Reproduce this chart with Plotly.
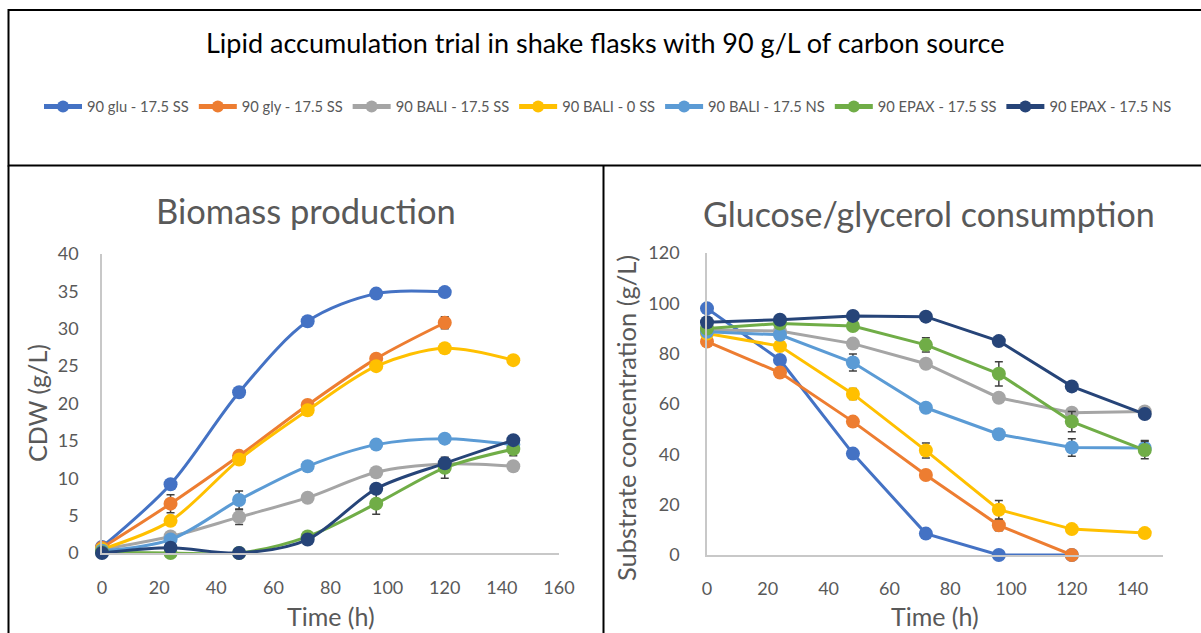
import plotly.graph_objects as go

# ---- data -------------------------------------------------------------
series_names = [
    "90 glu - 17.5 SS",
    "90 gly - 17.5 SS",
    "90 BALI - 17.5 SS",
    "90 BALI - 0 SS",
    "90 BALI - 17.5 NS",
    "90 EPAX - 17.5 SS",
    "90 EPAX - 17.5 NS",
]
series_colors = ["#4472C4", "#ED7D31", "#A5A5A5", "#FFC000", "#5B9BD5", "#70AD47", "#264478"]

time_full = [0, 24, 48, 72, 96, 120, 144]
time_short = [0, 24, 48, 72, 96, 120]

# Biomass (CDW, g/L)
cdw_glu = [0.8, 9.2, 21.5, 31.0, 34.7, 34.9]
cdw_gly = [0.7, 6.6, 13.0, 19.8, 26.0, 30.8]
cdw_bali_ss = [0.5, 2.2, 4.8, 7.4, 10.8, 11.9, 11.6]
cdw_bali_0ss = [0.5, 4.3, 12.5, 19.1, 25.0, 27.4, 25.8]
cdw_bali_ns = [0.3, 1.8, 7.1, 11.6, 14.5, 15.3, 14.5]
cdw_epax_ss = [0.1, 0.0, 0.0, 2.2, 6.6, 11.4, 13.9]
cdw_epax_ns = [0.0, 0.7, 0.0, 1.8, 8.6, 12.0, 15.1]

cdw_err_glu = [0, 0, 0, 0, 0, 0]
cdw_err_gly = [0, 1.2, 0, 0, 0.5, 0.8]
cdw_err_bali_ss = [0, 0, 1.0, 0.5, 0, 0, 0]
cdw_err_bali_0ss = [0, 0.4, 0, 0, 0.6, 0.6, 0]
cdw_err_bali_ns = [0, 0, 1.2, 0, 0, 0, 0]
cdw_err_epax_ss = [0, 0, 0, 0, 1.4, 1.4, 0.9]
cdw_err_epax_ns = [0, 0, 0, 0, 0, 0.6, 0]

# Substrate concentration (g/L)
sub_glu = [98.0, 77.5, 40.3, 8.5, 0.0, 0.0]
sub_gly = [84.8, 72.5, 53.0, 31.8, 11.8, 0.0]
sub_bali_ss = [89.4, 89.0, 84.0, 76.0, 62.5, 56.5, 57.0]
sub_bali_0ss = [88.0, 83.0, 64.0, 41.5, 18.0, 10.3, 8.7]
sub_bali_ns = [88.7, 87.5, 76.5, 58.5, 48.0, 42.7, 42.5]
sub_epax_ss = [90.0, 92.0, 91.0, 83.5, 72.0, 53.0, 41.7]
sub_epax_ns = [92.5, 93.5, 95.0, 94.7, 85.0, 67.0, 56.0]

sub_err_glu = [0, 0, 0, 0, 0, 0]
sub_err_gly = [0, 0, 0, 0, 2.2, 0]
sub_err_bali_ss = [0, 0, 0, 0, 0, 1.2, 1.0]
sub_err_bali_0ss = [0, 0, 2.2, 3.0, 3.7, 0, 0]
sub_err_bali_ns = [0, 0, 3.4, 0, 2.0, 3.5, 3.0]
sub_err_epax_ss = [0, 0, 0, 2.8, 4.8, 4.0, 3.5]
sub_err_epax_ns = [0, 0, 0, 0, 0, 0, 1.2]

biomass = [
    (time_short, cdw_glu, cdw_err_glu),
    (time_short, cdw_gly, cdw_err_gly),
    (time_full, cdw_bali_ss, cdw_err_bali_ss),
    (time_full, cdw_bali_0ss, cdw_err_bali_0ss),
    (time_full, cdw_bali_ns, cdw_err_bali_ns),
    (time_full, cdw_epax_ss, cdw_err_epax_ss),
    (time_full, cdw_epax_ns, cdw_err_epax_ns),
]
substrate = [
    (time_short, sub_glu, sub_err_glu),
    (time_short, sub_gly, sub_err_gly),
    (time_full, sub_bali_ss, sub_err_bali_ss),
    (time_full, sub_bali_0ss, sub_err_bali_0ss),
    (time_full, sub_bali_ns, sub_err_bali_ns),
    (time_full, sub_epax_ss, sub_err_epax_ss),
    (time_full, sub_epax_ns, sub_err_epax_ns),
]

# ---- layout helpers (pixel -> paper) ----------------------------------
W, H = 1201, 633


def px(x):
    return x / W


def py(y):
    return 1 - y / H


FONT = "Lato, 'Open Sans', sans-serif"
GRAY_TXT = "#595959"
ERR_COLOR = "#404040"

fig = go.Figure()

for i, name in enumerate(series_names):
    t, v, e = biomass[i]
    fig.add_trace(go.Scatter(
        x=t, y=v, name=name, legendgroup=name, showlegend=True,
        mode="lines+markers",
        line=dict(color=series_colors[i], width=3, shape="spline", smoothing=0.9),
        marker=dict(color=series_colors[i], size=14),
        error_y=dict(type="data", array=e, visible=True, color=ERR_COLOR, thickness=1.5, width=4),
        cliponaxis=False, xaxis="x", yaxis="y",
    ))

for i, name in enumerate(series_names):
    t, v, e = substrate[i]
    fig.add_trace(go.Scatter(
        x=t, y=v, name=name, legendgroup=name, showlegend=False,
        mode="lines+markers",
        line=dict(color=series_colors[i], width=3),
        marker=dict(color=series_colors[i], size=14),
        error_y=dict(type="data", array=e, visible=True, color=ERR_COLOR, thickness=1.5, width=4),
        cliponaxis=False, xaxis="x2", yaxis="y2",
    ))

axis_common = dict(
    showgrid=False, zeroline=False, showline=True, linecolor="#c8c8c8", linewidth=1.5,
    ticks="", tickfont=dict(family=FONT, size=18, color=GRAY_TXT), fixedrange=True,
    automargin=False,
)

fig.update_layout(
    width=W, height=H,
    margin=dict(l=0, r=0, t=0, b=0, autoexpand=False),
    paper_bgcolor="white", plot_bgcolor="white",
    font=dict(family=FONT, color=GRAY_TXT),
    xaxis=dict(domain=[px(102), px(559)], range=[0, 160], dtick=20, tick0=0,
               anchor="y", ticklabelstandoff=18, **axis_common),
    yaxis=dict(domain=[py(553), py(254)], range=[0, 40], dtick=5, tick0=0,
               anchor="x", ticklabelstandoff=18, **axis_common),
    xaxis2=dict(domain=[px(707), px(1163)], range=[0, 150], dtick=20, tick0=0,
                anchor="y2", ticklabelstandoff=17, **axis_common),
    yaxis2=dict(domain=[py(555), py(253)], range=[0, 120], dtick=20, tick0=0,
                anchor="x2", ticklabelstandoff=22, **axis_common),
    legend=dict(
        orientation="h", x=px(608), xanchor="center", y=py(107), yanchor="middle",
        font=dict(family=FONT, size=14.7, color=GRAY_TXT), itemsizing="constant",
        itemwidth=38, bgcolor="rgba(0,0,0,0)", traceorder="normal",
    ),
    showlegend=True,
)

annotations = [
    dict(text="Lipid accumulation trial in shake flasks with 90 g/L of carbon source",
         x=px(605), y=py(42), font=dict(family=FONT, size=27, color="#000000")),
    dict(text="Biomass production", x=px(306), y=py(211),
         font=dict(family=FONT, size=34.5, color=GRAY_TXT)),
    dict(text="Glucose/glycerol consumption", x=px(929), y=py(213),
         font=dict(family=FONT, size=34, color=GRAY_TXT)),
    dict(text="Time (h)", x=px(331), y=py(616), font=dict(family=FONT, size=25, color=GRAY_TXT)),
    dict(text="Time (h)", x=px(935), y=py(616), font=dict(family=FONT, size=25, color=GRAY_TXT)),
    dict(text="CDW (g/L)", x=px(37), y=py(403), textangle=-90,
         font=dict(family=FONT, size=25, color=GRAY_TXT)),
    dict(text="Substrate concentration (g/L)", x=px(626), y=py(418), textangle=-90,
         font=dict(family=FONT, size=25.5, color=GRAY_TXT)),
]
for a in annotations:
    a.update(xref="paper", yref="paper", showarrow=False, xanchor="center", yanchor="middle")
fig.update_layout(annotations=annotations)

frame = dict(color="#000000", width=2)
fig.update_layout(shapes=[
    dict(type="rect", xref="paper", yref="paper", x0=px(8.5), x1=px(1210), y0=py(10), y1=py(165.5), line=frame),
    dict(type="line", xref="paper", yref="paper", x0=px(8.5), x1=px(8.5), y0=py(165.5), y1=py(640), line=frame),
    dict(type="line", xref="paper", yref="paper", x0=px(603.5), x1=px(603.5), y0=py(165.5), y1=py(640), line=frame),
])

fig.write_html("out.html")
